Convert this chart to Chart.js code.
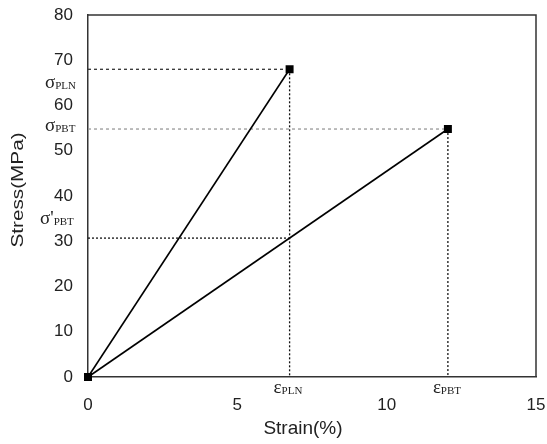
<!DOCTYPE html>
<html>
<head>
<meta charset="utf-8">
<script src="https://cdn.jsdelivr.net/npm/chart.js@4.4.1/dist/chart.umd.min.js"></script>
<style>
  html, body { margin: 0; padding: 0; background: #fff; }
  #wrap { width: 547px; height: 444px; }
</style>
</head>
<body>
<div id="wrap"><canvas id="stressChart"></canvas></div>
<script>
// Stress-strain data (strain %, stress MPa)
const plnStrain = [0, 6.75];
const plnStress = [0, 68.0];
const pbtStrain = [0, 12.05];
const pbtStress = [0, 54.8];

const xTicks = [0, 5, 10, 15];
const yTicks = [0, 10, 20, 30, 40, 50, 60, 70, 80];

const toPoints = (xs, ys) => xs.map((x, i) => ({ x: x, y: ys[i] }));

const plnEnd = { x: plnStrain[1], y: plnStress[1] };
const pbtEnd = { x: pbtStrain[1], y: pbtStress[1] };
// PBT stress at the PLN failure strain
const pbtAtPln = pbtEnd.y * plnEnd.x / pbtEnd.x;

const guide = (pts, color, dash) => ({
  data: pts,
  showLine: true,
  borderColor: color,
  borderWidth: 1.3,
  borderDash: dash,
  pointRadius: 0,
  order: 2
});

const curve = (label, pts) => ({
  label: label,
  data: pts,
  showLine: true,
  borderColor: '#000',
  backgroundColor: '#000',
  borderWidth: 1.6,
  pointStyle: 'rect',
  pointRadius: 4.5,
  clip: false,
  order: 1
});

// Greek symbol with a small-caps subscript
function symbolLabel(ctx, x, y, main, sub) {
  ctx.font = '19px "Liberation Serif", serif';
  ctx.fillText(main, x, y);
  const w = ctx.measureText(main).width;
  ctx.font = '11px "Liberation Serif", serif';
  ctx.fillText(sub, x + w, y + 3);
}

const annotations = {
  id: 'annotations',
  afterDraw(chart) {
    const { ctx, chartArea, scales: { x, y } } = chart;
    ctx.save();
    // frame around the plot
    ctx.strokeStyle = '#333';
    ctx.lineWidth = 1.5;
    ctx.beginPath();
    ctx.moveTo(chartArea.left, chartArea.top);
    ctx.lineTo(chartArea.right, chartArea.top);
    ctx.lineTo(chartArea.right, chartArea.bottom);
    ctx.stroke();

    ctx.fillStyle = '#222';
    ctx.textBaseline = 'middle';
    ctx.textAlign = 'left';
    symbolLabel(ctx, 45, y.getPixelForValue(plnEnd.y) + 14, 'σ', 'PLN');
    symbolLabel(ctx, 45, y.getPixelForValue(pbtEnd.y) - 3, 'σ', 'PBT');
    symbolLabel(ctx, 40, y.getPixelForValue(pbtAtPln) - 19, 'σ\'', 'PBT');
    const by = chartArea.bottom + 11;
    symbolLabel(ctx, x.getPixelForValue(plnEnd.x) - 16, by, 'ε', 'PLN');
    symbolLabel(ctx, x.getPixelForValue(pbtEnd.x) - 15, by, 'ε', 'PBT');

    // x axis title
    ctx.textAlign = 'center';
    ctx.font = '19px "Liberation Sans", Arial';
    ctx.fillText('Strain(%)', (chartArea.left + chartArea.right) / 2 - 9, chartArea.bottom + 52);

    // y axis title, drawn a little elongated
    ctx.translate(19, (chartArea.top + chartArea.bottom) / 2 - 6);
    ctx.rotate(-Math.PI / 2);
    ctx.scale(1.22, 0.95);
    ctx.font = '17px "Liberation Sans", Arial';
    ctx.fillText('Stress(MPa)', 0, 0);
    ctx.restore();
  }
};

const ctx = document.getElementById('stressChart').getContext('2d');
new Chart(ctx, {
  type: 'scatter',
  data: {
    datasets: [
      curve('PLN', toPoints(plnStrain, plnStress)),
      curve('PBT', toPoints(pbtStrain, pbtStress)),
      guide([{ x: 0, y: plnEnd.y }, plnEnd], '#333', [3, 3]),
      guide([{ x: 0, y: pbtEnd.y }, pbtEnd], '#999', [3, 3]),
      guide([{ x: 0, y: pbtAtPln }, { x: plnEnd.x, y: pbtAtPln }], '#111', [2, 2]),
      guide([plnEnd, { x: plnEnd.x, y: 0 }], '#111', [2, 2]),
      guide([pbtEnd, { x: pbtEnd.x, y: 0 }], '#111', [2, 2])
    ]
  },
  options: {
    responsive: true,
    maintainAspectRatio: false,
    animation: false,
    layout: { padding: { top: 15, right: 11, left: 0, bottom: 0 } },
    plugins: {
      legend: { display: false },
      tooltip: { enabled: false }
    },
    scales: {
      x: {
        type: 'linear',
        min: xTicks[0],
        max: xTicks[xTicks.length - 1],
        afterBuildTicks: (axis) => { axis.ticks = xTicks.map(v => ({ value: v })); },
        afterFit: (axis) => {
          axis.height = 67;
          axis.paddingLeft = 0;
          axis.paddingRight = 0;
        },
        grid: { display: false, drawOnChartArea: false, drawTicks: true, tickLength: 5, tickColor: '#333' },
        border: { display: true, color: '#333', width: 1.5 },
        ticks: { color: '#222', font: { family: '"Liberation Sans", Arial', size: 17 }, padding: 13 },
        title: { display: false }
      },
      y: {
        type: 'linear',
        min: yTicks[0],
        max: yTicks[yTicks.length - 1],
        afterBuildTicks: (axis) => { axis.ticks = yTicks.map(v => ({ value: v })); },
        afterFit: (axis) => {
          axis.width = 88;
          axis.paddingTop = 0;
          axis.paddingBottom = 0;
        },
        grid: { display: false, drawOnChartArea: false, drawTicks: true, tickLength: 5, tickColor: '#333' },
        border: { display: true, color: '#333', width: 1.5 },
        ticks: { color: '#222', font: { family: '"Liberation Sans", Arial', size: 17 }, padding: 10 },
        title: { display: false }
      }
    }
  },
  plugins: [annotations]
});
</script>
</body>
</html>
